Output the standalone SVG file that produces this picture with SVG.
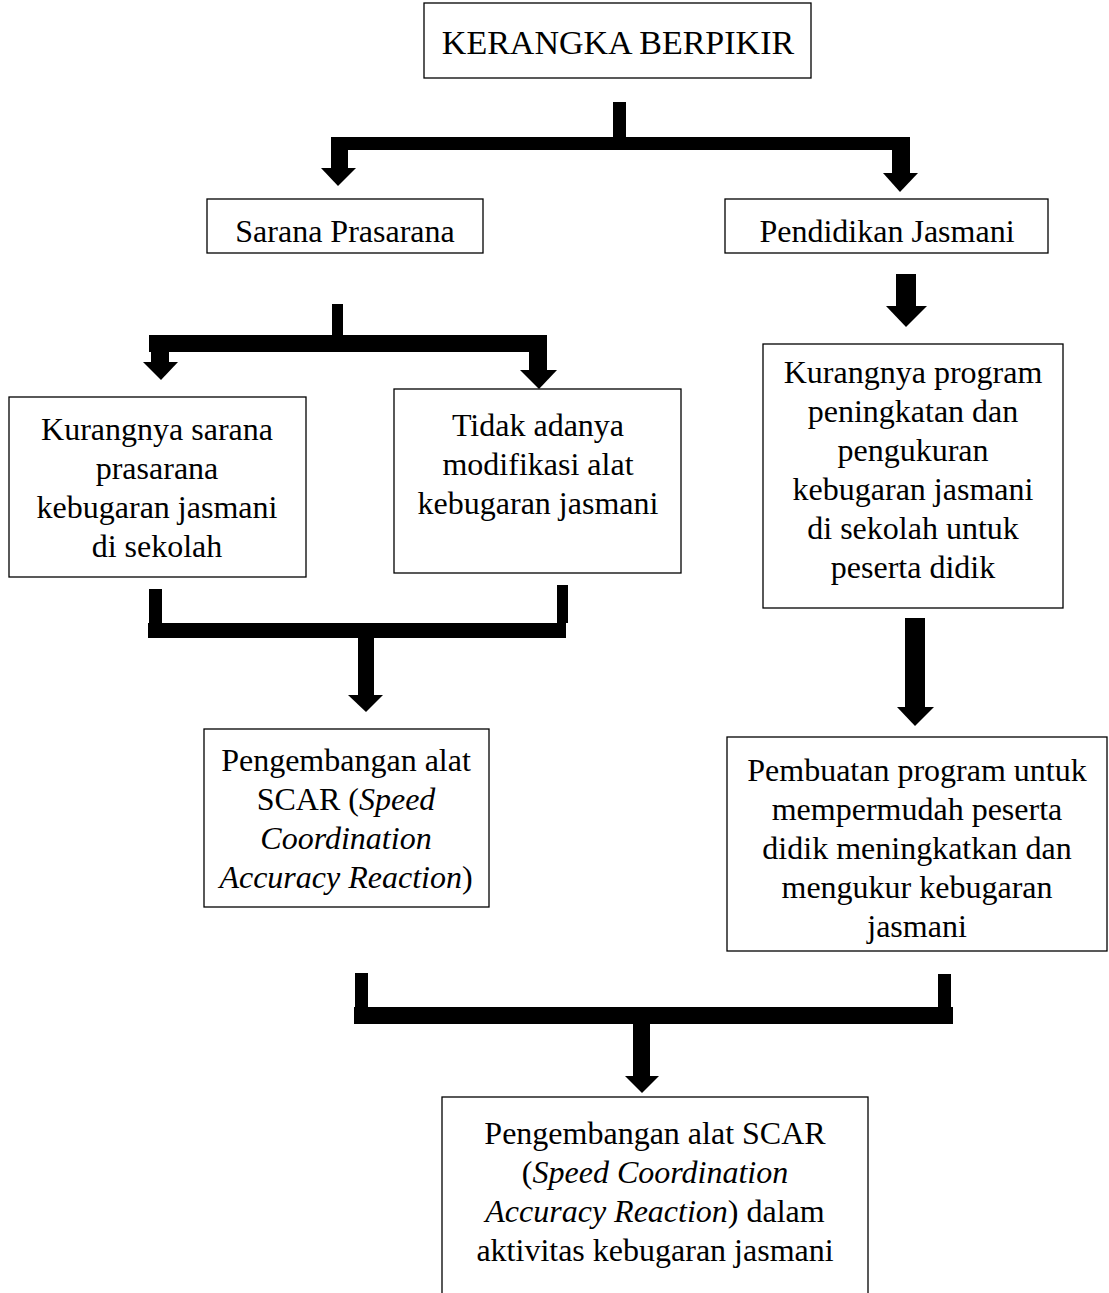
<svg xmlns="http://www.w3.org/2000/svg" width="1109" height="1293" viewBox="0 0 1109 1293">
<style>
.box{fill:#fff;stroke:#000;stroke-width:1.3}
text{font-family:"Liberation Serif","Times New Roman",serif;font-size:32px;fill:#000;text-anchor:middle}
.i{font-style:italic}
.t{font-size:34px}
.c{fill:#000;stroke:none}
</style>
<rect width="1109" height="1293" fill="#fff"/>
<g id="connectors" class="c">
  <!-- top split -->
  <rect x="613" y="102" width="13" height="48"/>
  <rect x="331" y="137" width="579" height="13"/>
  <rect x="331" y="150" width="17" height="18"/>
  <polygon points="321,168 356,168 338,186"/>
  <rect x="892" y="150" width="18" height="23"/>
  <polygon points="883,173 918,173 900,192"/>
  <!-- sarana split -->
  <rect x="332" y="304" width="11" height="31"/>
  <rect x="149" y="335" width="398" height="17"/>
  <rect x="151" y="352" width="18" height="10"/>
  <polygon points="143,362 178,362 161,380"/>
  <rect x="529" y="352" width="18" height="18"/>
  <polygon points="520,370 557,370 539,389"/>
  <!-- merge left -->
  <rect x="149" y="589" width="13" height="34"/>
  <rect x="557" y="585" width="11" height="38"/>
  <rect x="148" y="623" width="418" height="15"/>
  <rect x="358" y="638" width="16" height="57"/>
  <polygon points="348,695 383,695 366,712"/>
  <!-- right column -->
  <rect x="896" y="274" width="20" height="32"/>
  <polygon points="886,306 927,306 906,327"/>
  <rect x="905" y="618" width="20" height="89"/>
  <polygon points="897,707 934,707 915,726"/>
  <!-- bottom merge -->
  <rect x="355" y="973" width="13" height="34"/>
  <rect x="938" y="974" width="13" height="33"/>
  <rect x="354" y="1007" width="599" height="17"/>
  <rect x="633" y="1024" width="17" height="52"/>
  <polygon points="625,1076 659,1076 642,1093"/>
</g>
<g id="title">
  <rect class="box" x="424" y="3" width="387" height="75"/>
  <text class="t" x="618" y="54">KERANGKA BERPIKIR</text>
</g>
<g id="sarana">
  <rect class="box" x="207" y="199" width="276" height="54"/>
  <text x="345" y="242">Sarana Prasarana</text>
</g>
<g id="pendidikan">
  <rect class="box" x="725" y="199" width="323" height="54"/>
  <text x="887" y="242">Pendidikan Jasmani</text>
</g>
<g id="kurang-sarana">
  <rect class="box" x="9" y="397" width="297" height="180"/>
  <text x="157" y="440">Kurangnya sarana</text>
  <text x="157" y="479">prasarana</text>
  <text x="157" y="518">kebugaran jasmani</text>
  <text x="157" y="557">di sekolah</text>
</g>
<g id="tidak-adanya">
  <rect class="box" x="394" y="389" width="287" height="184"/>
  <text x="538" y="436">Tidak adanya</text>
  <text x="538" y="475">modifikasi alat</text>
  <text x="538" y="514">kebugaran jasmani</text>
</g>
<g id="kurang-program">
  <rect class="box" x="763" y="344" width="300" height="264"/>
  <text x="913" y="383">Kurangnya program</text>
  <text x="913" y="422">peningkatan dan</text>
  <text x="913" y="461">pengukuran</text>
  <text x="913" y="500">kebugaran jasmani</text>
  <text x="913" y="539">di sekolah untuk</text>
  <text x="913" y="578">peserta didik</text>
</g>
<g id="scar">
  <rect class="box" x="204" y="729" width="285" height="178"/>
  <text x="346" y="771">Pengembangan alat</text>
  <text x="346" y="810">SCAR (<tspan class="i">Speed</tspan></text>
  <text x="346" y="849" class="i">Coordination</text>
  <text x="346" y="888"><tspan class="i">Accuracy Reaction</tspan>)</text>
</g>
<g id="pembuatan">
  <rect class="box" x="727" y="737" width="380" height="214"/>
  <text x="917" y="781">Pembuatan program untuk</text>
  <text x="917" y="820">mempermudah peserta</text>
  <text x="917" y="859">didik meningkatkan dan</text>
  <text x="917" y="898">mengukur kebugaran</text>
  <text x="917" y="937">jasmani</text>
</g>
<g id="final">
  <rect class="box" x="442" y="1097" width="426" height="200"/>
  <text x="655" y="1144">Pengembangan alat SCAR</text>
  <text x="655" y="1183">(<tspan class="i">Speed Coordination</tspan></text>
  <text x="655" y="1222"><tspan class="i">Accuracy Reaction</tspan>) dalam</text>
  <text x="655" y="1261">aktivitas kebugaran jasmani</text>
</g>
</svg>
